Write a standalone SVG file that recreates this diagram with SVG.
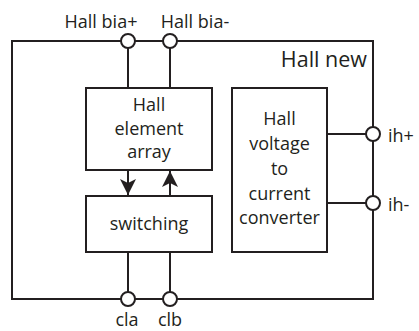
<svg xmlns="http://www.w3.org/2000/svg" width="419" height="331" viewBox="0 0 419 331">
<defs>
<style>
.ln{stroke:#231f20;stroke-width:2;fill:none}
.bx{stroke:#231f20;stroke-width:2;fill:#fff}
.pin{stroke:#231f20;stroke-width:2;fill:#fff}
text{font-family:"Open Sans","Liberation Sans",sans-serif;font-size:18px;fill:#231f20}
.c{text-anchor:middle}
</style>
<marker id="ah" viewBox="0 0 16 16" markerUnits="userSpaceOnUse" markerWidth="16" markerHeight="16" refX="16" refY="8" orient="auto">
<path d="M0,0 L16,8 L0,16 L4,8 Z" fill="#231f20"/>
</marker>
</defs>
<rect id="frame" x="12" y="41" width="361" height="258" class="ln"/>
<g id="connectors">
<line class="ln" x1="128" y1="41" x2="128" y2="88"/>
<line class="ln" x1="170" y1="41" x2="170" y2="88"/>
<line class="ln" x1="128" y1="252" x2="128" y2="299"/>
<line class="ln" x1="170" y1="252" x2="170" y2="299"/>
<line class="ln" x1="327" y1="134" x2="373" y2="134"/>
<line class="ln" x1="327" y1="203" x2="373" y2="203"/>
<line class="ln" x1="128" y1="170" x2="128" y2="195" marker-end="url(#ah)"/>
<line class="ln" x1="170" y1="196" x2="170" y2="171" marker-end="url(#ah)"/>
</g>
<g id="title"><text x="367" y="67" style="font-size:21.5px;text-anchor:end">Hall new</text></g>
<g id="hall-element-array">
<rect class="bx" x="86" y="88" width="126" height="82"/>
<text class="c" x="149" y="111">Hall</text>
<text class="c" x="149" y="134.5">element</text>
<text class="c" x="149" y="158">array</text>
</g>
<g id="switching">
<rect class="bx" x="86" y="196" width="126" height="56"/>
<text class="c" x="149" y="230">switching</text>
</g>
<g id="converter">
<rect class="bx" x="232" y="88" width="95" height="164"/>
<text class="c" x="279.5" y="125">Hall</text>
<text class="c" x="279.5" y="149.5">voltage</text>
<text class="c" x="279.5" y="174.5">to</text>
<text class="c" x="279.5" y="199.5">current</text>
<text class="c" x="279.5" y="224">converter</text>
</g>
<g id="pin-bia-plus"><circle class="pin" cx="128" cy="41" r="7"/><text class="c" x="101" y="28">Hall bia+</text></g>
<g id="pin-bia-minus"><circle class="pin" cx="170" cy="41" r="7"/><text class="c" x="195" y="28">Hall bia-</text></g>
<g id="pin-ih-plus"><circle class="pin" cx="373" cy="134" r="7"/><text x="388" y="141.5">ih+</text></g>
<g id="pin-ih-minus"><circle class="pin" cx="373" cy="203" r="7"/><text x="388" y="210.5">ih-</text></g>
<g id="pin-cla"><circle class="pin" cx="128" cy="299" r="7"/><text class="c" x="127" y="326">cla</text></g>
<g id="pin-clb"><circle class="pin" cx="170" cy="299" r="7"/><text class="c" x="170" y="326">clb</text></g>
</svg>
